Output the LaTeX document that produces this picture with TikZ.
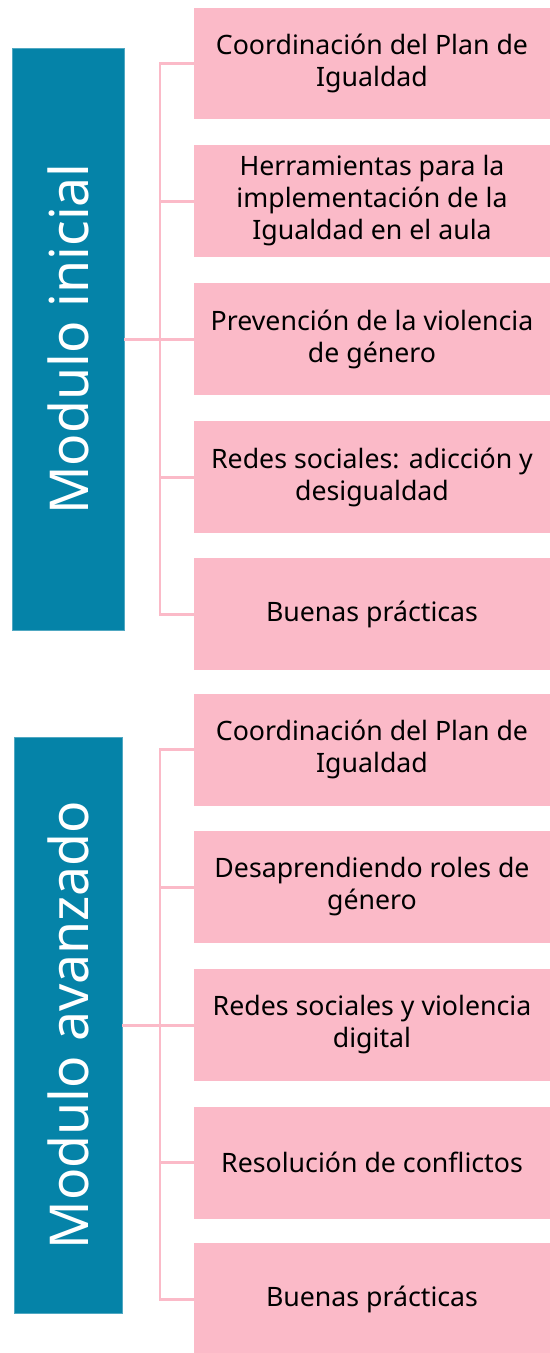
\documentclass[tikz,border=0pt]{standalone}
\usepackage{fontspec}
\usepackage{tikz}
\setmainfont{Noto Sans}
\usetikzlibrary{positioning}
\definecolor{mblue}{HTML}{0583A8}
\definecolor{mpink}{HTML}{FBBAC8}
\tikzset{modbox/.style = {fill=mblue, draw=mblue!70!white, line width=0.5pt,
                          text=white, rotate=90, inner sep=0pt,
                          font=\fontsize{30.5}{36}\selectfont},
         topicbox/.style = {fill=mpink, inner sep=0pt, align=center,
                            minimum width=7.12cm, minimum height=2.24cm,
                            font=\fontsize{15.2}{18.2}\selectfont},
         link/.style = {draw=mpink, line width=1.7pt}}

\begin{document}
\begin{tikzpicture}[x=0.02cm, y=-0.02cm]
    \useasboundingbox (0, 0) rectangle (550, 1353);
    \coordinate (bus) at (160, 0);

    % modulo inicial
    \node [modbox, minimum width=11.64cm, minimum height=2.24cm] (ini) at (68, 339) {Modulo inicial};
    \node [topicbox] (i1) at (372, 63.5) {Coordinación del Plan de\\Igualdad};
    \node [topicbox] (i2) at (372, 201) {Herramientas para la\\implementación de la\\Igualdad en el aula};
    \node [topicbox] (i3) at (372, 339) {Prevención de la violencia\\de género};
    \node [topicbox] (i4) at (372, 477) {Redes sociales: adicción y\\desigualdad};
    \node [topicbox] (i5) at (372, 614) {Buenas prácticas};
    \draw [link] (i1.west) -- (i1.west -| bus) -- (i5.west -| bus) -- (i5.west);
    \foreach \n in {i2, i3, i4}
        \draw [link] (\n.west) -- (\n.west -| bus);
    \draw [link] (ini) -- (i3);

    % modulo avanzado
    \node [modbox, minimum width=11.52cm, minimum height=2.16cm] (ava) at (68, 1025) {Modulo avanzado};
    \node [topicbox] (a1) at (372, 749.5) {Coordinación del Plan de\\Igualdad};
    \node [topicbox] (a2) at (372, 887) {Desaprendiendo roles de\\género};
    \node [topicbox] (a3) at (372, 1025) {Redes sociales y violencia\\digital};
    \node [topicbox] (a4) at (372, 1162.5) {Resolución de conflictos};
    \node [topicbox] (a5) at (372, 1299) {Buenas prácticas};
    \draw [link] (a1.west) -- (a1.west -| bus) -- (a5.west -| bus) -- (a5.west);
    \foreach \n in {a2, a3, a4}
        \draw [link] (\n.west) -- (\n.west -| bus);
    \draw [link] (ava) -- (a3);
\end{tikzpicture}
\end{document}
